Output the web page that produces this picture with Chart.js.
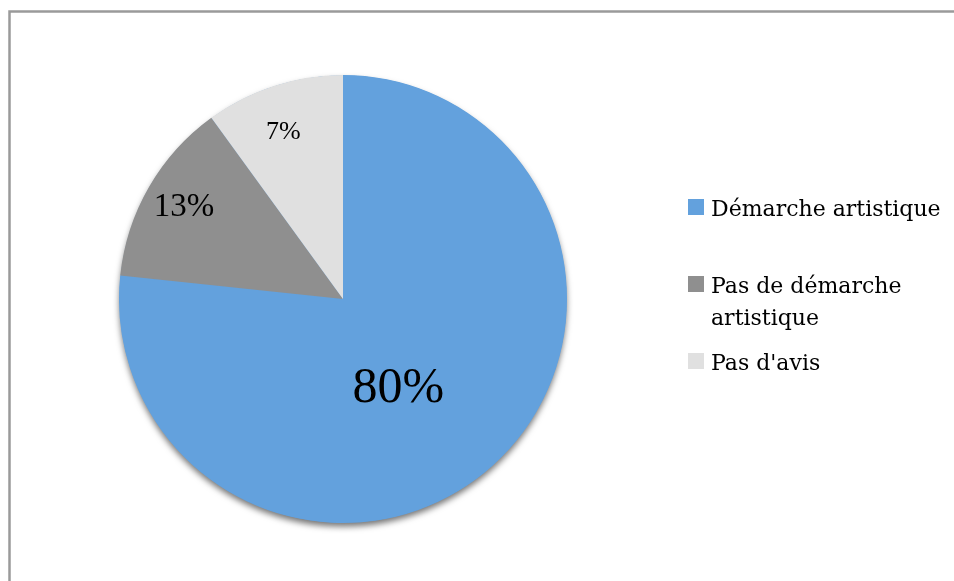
<!DOCTYPE html>
<html>
<head>
<meta charset="utf-8">
<script src="https://cdn.jsdelivr.net/npm/chart.js@4"></script>
<style>
  html, body { margin: 0; padding: 0; background: #fff; }
  #wrap { width: 954px; height: 581px; }
</style>
</head>
<body>
<div id="wrap"><canvas id="pieChart" width="954" height="581"></canvas></div>
<script>
// data
const categories = ['Démarche artistique', 'Pas de démarche artistique', "Pas d'avis"];
const legendLines = [['Démarche artistique'], ['Pas de démarche', 'artistique'], ["Pas d'avis"]];
const values = [23, 4, 3];
const valueLabels = ['80%', '13%', '7%'];
const colors = ['#63a1dd', '#8f8f8f', '#e0e0e0'];

// frame + shadow under the pie
const backdrop = {
  id: 'backdrop',
  beforeDraw(chart) {
    const ctx = chart.ctx;
    ctx.save();
    ctx.strokeStyle = '#9a9a9a';
    ctx.lineWidth = 2.5;
    ctx.beginPath();
    ctx.moveTo(9.5, 600);
    ctx.lineTo(9.5, 11.5);
    ctx.lineTo(960, 11.5);
    ctx.stroke();
    ctx.restore();
  },
  beforeDatasetsDraw(chart) {
    const arc = chart.getDatasetMeta(0).data[0];
    if (!arc) return;
    const ctx = chart.ctx;
    ctx.save();
    ctx.shadowColor = 'rgba(0,0,0,0.55)';
    ctx.shadowBlur = 6;
    ctx.shadowOffsetY = 4;
    ctx.fillStyle = colors[0];
    ctx.beginPath();
    ctx.arc(arc.x, arc.y, arc.outerRadius - 0.5, 0, Math.PI * 2);
    ctx.fill();
    ctx.restore();
  }
};

// percentage labels inside the slices
const sliceLabels = {
  id: 'sliceLabels',
  afterDatasetsDraw(chart) {
    const ctx = chart.ctx;
    const meta = chart.getDatasetMeta(0);
    const sizes = [50, 33, 26];
    const radial = [0.47, 0.82, 0.79];
    const turn = [0.18, 0, -0.03];
    ctx.save();
    ctx.fillStyle = '#000';
    ctx.textAlign = 'center';
    ctx.textBaseline = 'middle';
    meta.data.forEach((arc, i) => {
      const mid = (arc.startAngle + arc.endAngle) / 2 + turn[i];
      const r = arc.outerRadius * radial[i];
      ctx.font = sizes[i] + 'px "Liberation Serif", serif';
      ctx.fillText(valueLabels[i], arc.x + Math.cos(mid) * r, arc.y + Math.sin(mid) * r);
    });
    ctx.restore();
  }
};

// legend on the right
const sideLegend = {
  id: 'sideLegend',
  afterDraw(chart) {
    const ctx = chart.ctx;
    const tops = [207, 284, 361];
    ctx.save();
    ctx.font = '22px "DejaVu Serif", serif';
    ctx.textBaseline = 'middle';
    categories.forEach((c, i) => {
      ctx.fillStyle = colors[i];
      ctx.fillRect(688, tops[i] - 8, 16, 16);
      ctx.fillStyle = '#000';
      legendLines[i].forEach((line, j) => {
        ctx.fillText(line, 711, tops[i] + 3 + j * 32);
      });
    });
    ctx.restore();
  }
};

new Chart(document.getElementById('pieChart'), {
  type: 'pie',
  data: {
    labels: categories,
    datasets: [{
      data: values,
      backgroundColor: colors,
      borderWidth: 0
    }]
  },
  options: {
    responsive: false,
    animation: false,
    layout: { padding: { top: 75, bottom: 58, left: 119, right: 387 } },
    plugins: {
      legend: { display: false },
      tooltip: { enabled: false }
    }
  },
  plugins: [backdrop, sliceLabels, sideLegend]
});
</script>
</body>
</html>
